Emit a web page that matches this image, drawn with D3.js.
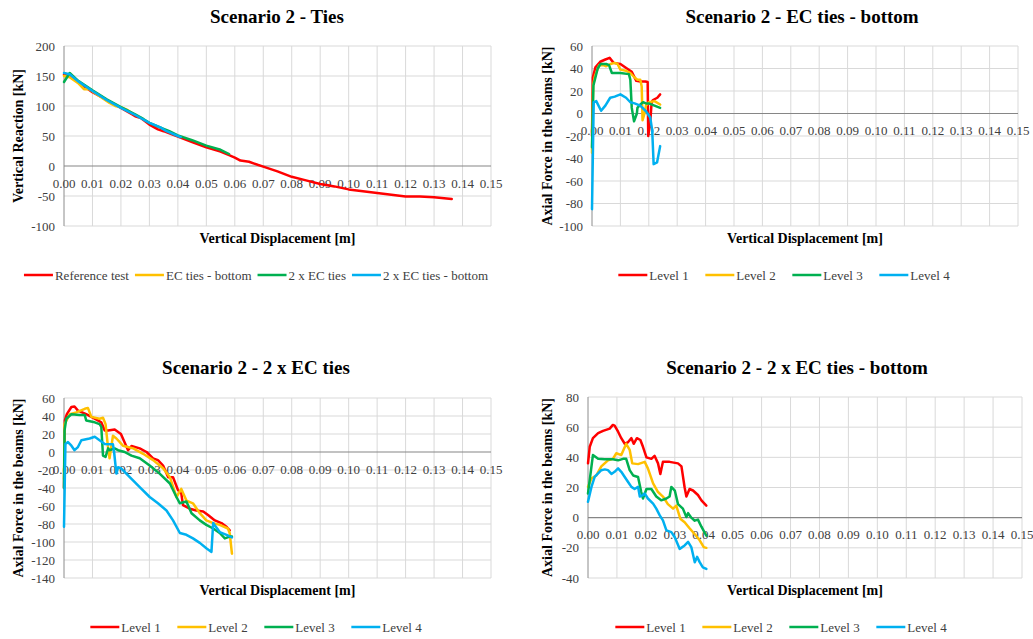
<!DOCTYPE html>
<html>
<head>
<meta charset="utf-8">
<script src="https://cdn.jsdelivr.net/npm/d3@7"></script>
<style>
  body { margin: 0; background: #fff; }
  svg { display: block; font-family: "Liberation Serif", "Times New Roman", serif; }
</style>
</head>
<body>
<div id="chart"></div>
<script>
// colours of the 4 series (Excel defaults)
const colors = ["#ff0000", "#ffc000", "#00b050", "#00b0f0"];

// x ticks, shared by all panels
const xTicks = d3.range(0, 16).map(i => i / 100);

// ---- Scenario 2 - Ties : vertical reaction [kN]
const tiesNames = ["Reference test", "EC ties - bottom", "2 x EC ties", "2 x EC ties - bottom"];
const tiesYTicks = [-100, -50, 0, 50, 100, 150, 200];
const tiesRef = [[0,152],[0.002,150],[0.005,140],[0.01,123],[0.015,110],[0.02,97],[0.024,86],[0.025,83],[0.027,80],[0.03,69],[0.033,61],[0.035,58],[0.04,49],[0.045,40],[0.05,31],[0.055,24],[0.058,18],[0.06,14],[0.062,9],[0.065,7],[0.068,2],[0.07,-1],[0.075,-9],[0.08,-18],[0.085,-24],[0.09,-30],[0.095,-34],[0.10,-39],[0.105,-42],[0.11,-45],[0.115,-48],[0.12,-51],[0.125,-51],[0.13,-52],[0.1362,-55]];
const tiesEcBottom = [[0,150],[0.002,148],[0.005,138],[0.007,128],[0.009,128],[0.012,118],[0.016,105],[0.018,100],[0.02,98],[0.022,94],[0.024,88]];
const ties2xEc = [[0,140],[0.002,155],[0.005,142],[0.01,126],[0.015,111],[0.02,98],[0.025,86],[0.028,78],[0.03,72],[0.035,62],[0.037,58],[0.04,51],[0.045,43],[0.05,34],[0.055,27],[0.058,20]];
const ties2xEcBottom = [[0,155],[0.002,153],[0.005,141],[0.01,125],[0.015,110],[0.02,97],[0.025,85],[0.03,72],[0.033,66],[0.034,64],[0.036,58],[0.04,50],[0.041,48]];

// ---- Scenario 2 - EC ties - bottom : axial force [kN]
const levelNames = ["Level 1", "Level 2", "Level 3", "Level 4"];
const ecYTicks = [-100, -80, -60, -40, -20, 0, 20, 40, 60];
const ecL1 = [[0,-20],[0.0003,32],[0.0012,41],[0.0029,46],[0.0047,48],[0.0062,49.5],[0.0076,45],[0.010,44],[0.0123,40],[0.014,37],[0.0156,29],[0.017,28.5],[0.0188,28.5],[0.0196,28],[0.0198,-20],[0.0205,-8],[0.021,10],[0.0215,12],[0.023,14],[0.024,17]];
const ecL2 = [[0,-35],[0.0004,25],[0.001,33],[0.0025,43],[0.004,43],[0.005,42],[0.0065,44],[0.008,45],[0.009,44],[0.010,39],[0.012,38],[0.0135,36],[0.015,32],[0.016,30],[0.017,30],[0.0175,24],[0.0178,-6],[0.0185,0],[0.019,7],[0.020,10],[0.022,11],[0.024,8]];
const ecL3 = [[0,-30],[0.0005,25],[0.002,40],[0.003,44],[0.005,44],[0.006,43],[0.007,36],[0.010,36],[0.013,35],[0.0135,30],[0.014,5],[0.0148,-7],[0.0158,0],[0.016,5],[0.017,8],[0.018,10],[0.019,9],[0.020,9],[0.022,7],[0.024,5]];
const ecL4 = [[0,-85],[0.0006,10],[0.0015,11],[0.0032,2.4],[0.0047,7],[0.0064,14],[0.008,15],[0.010,17],[0.012,14],[0.0135,10],[0.015,9],[0.017,7],[0.019,2],[0.0205,-3.5],[0.0212,-15],[0.0217,-45],[0.0229,-43.5],[0.024,-29]];

// ---- Scenario 2 - 2 x EC ties : axial force [kN]
const twoYTicks = [-140, -120, -100, -80, -60, -40, -20, 0, 20, 40, 60];
const twoL1 = [[0,-40],[0.0003,35],[0.001,42],[0.0026,50],[0.0037,50.5],[0.0049,46],[0.0078,42],[0.0096,39],[0.0114,36],[0.0131,33],[0.0143,24],[0.0155,24],[0.0178,25],[0.020,20],[0.0225,2],[0.0237,6.6],[0.0266,4],[0.029,0],[0.0313,-7],[0.033,-9],[0.0348,-15],[0.0366,-28],[0.0383,-28],[0.040,-42],[0.0412,-46],[0.0418,-59],[0.0442,-63],[0.0465,-65],[0.0489,-66],[0.0506,-70],[0.053,-76],[0.0553,-79],[0.0571,-83],[0.0582,-87]];
const twoL2 = [[0,-30],[0.0002,31],[0.002,42],[0.0043,44],[0.0073,48],[0.0084,49],[0.0096,39],[0.0125,37],[0.0137,38],[0.0146,31],[0.0155,4],[0.016,-7],[0.0172,18],[0.0184,15],[0.0196,11],[0.0207,7],[0.0243,4],[0.0278,-2],[0.0313,-9],[0.0348,-18],[0.0372,-28],[0.0395,-50],[0.0412,-41],[0.043,-54],[0.0453,-57],[0.0477,-68],[0.050,-76],[0.0524,-79],[0.0547,-81],[0.0576,-85],[0.0582,-90],[0.059,-113]];
const twoL3 = [[0,-40],[0.0002,24],[0.0008,37],[0.0026,42],[0.0055,41],[0.0073,41],[0.0078,35],[0.0108,33],[0.0125,31],[0.0131,28],[0.0137,-4],[0.0146,-5.5],[0.0155,4],[0.016,2],[0.0178,4],[0.019,2],[0.0213,0],[0.0237,-4],[0.0266,-7],[0.0301,-15],[0.0336,-24],[0.0372,-35],[0.0395,-50],[0.0407,-57],[0.043,-55],[0.0448,-68],[0.0477,-76],[0.050,-81],[0.0524,-85],[0.0547,-90],[0.0565,-96],[0.0582,-94],[0.059,-94]];
const twoL4 = [[0,-83],[0.0005,9],[0.0014,11],[0.0026,7],[0.0037,2],[0.0049,5.5],[0.0061,13],[0.009,15],[0.0108,17],[0.0125,13],[0.0143,9],[0.016,8.5],[0.0172,8.5],[0.0176,0],[0.0184,-24],[0.019,-17],[0.020,-18],[0.0231,-28],[0.0266,-39],[0.0301,-50],[0.033,-57],[0.036,-65],[0.0383,-76],[0.0407,-90],[0.043,-92],[0.0453,-96],[0.0477,-101],[0.050,-107],[0.0518,-111],[0.0524,-79],[0.0547,-89],[0.0571,-92],[0.059,-95]];

// ---- Scenario 2 - 2 x EC ties - bottom : axial force [kN]
const twoBotYTicks = [-40, -20, 0, 20, 40, 60, 80];
const twoBotL1 = [[0,36],[0.0006,47],[0.0017,52.7],[0.0035,56],[0.0052,57.5],[0.0075,59],[0.0086,61.5],[0.0092,61],[0.0104,57],[0.0115,52.7],[0.0127,49],[0.0138,50],[0.015,52.7],[0.0158,49],[0.0169,52.7],[0.0181,51.5],[0.019,47],[0.0202,40],[0.0219,39],[0.023,41],[0.0242,36],[0.025,29],[0.0259,37],[0.0282,37],[0.0311,36],[0.0323,34],[0.0334,20],[0.034,14],[0.0351,19],[0.0363,18],[0.038,15],[0.0392,11.5],[0.0409,8]];
const twoBotL2 = [[0,20.4],[0.0012,26],[0.0029,28],[0.0046,34],[0.0069,38],[0.0086,39],[0.0098,42.7],[0.0115,41.5],[0.0132,49],[0.0144,45],[0.0153,36],[0.0173,35.5],[0.0196,37],[0.0207,32.7],[0.0225,22.7],[0.0242,17],[0.0259,14],[0.0276,9],[0.0294,6],[0.0305,8],[0.0319,-0.7],[0.0334,-3],[0.0351,-7],[0.0369,-11],[0.0386,-15],[0.040,-19.5],[0.0409,-20]];
const twoBotL3 = [[0,16],[0.0017,41.5],[0.0035,39],[0.0058,38.7],[0.0086,38.7],[0.0104,38],[0.0121,39],[0.0132,39],[0.0144,31.5],[0.0156,28],[0.0173,27],[0.0184,17],[0.019,12.7],[0.0202,19],[0.0219,19],[0.0236,14],[0.0253,11.5],[0.0271,12.7],[0.0282,14],[0.0288,20.4],[0.030,18],[0.0311,9],[0.0328,6],[0.034,0.4],[0.0346,3],[0.0357,0],[0.0369,-2],[0.038,-1.3],[0.0392,-6],[0.0409,-12]];
const twoBotL4 = [[0,10.5],[0.0012,20.4],[0.0023,27],[0.0046,31.5],[0.0058,32],[0.0069,31.5],[0.0081,29],[0.0092,30.4],[0.0104,32.7],[0.0115,30.4],[0.0127,27],[0.0138,23.8],[0.015,20.4],[0.0161,19],[0.0173,20.4],[0.0179,14],[0.019,15],[0.0196,16],[0.0207,12.7],[0.0225,9.3],[0.0236,6],[0.0248,1.5],[0.0259,-1.8],[0.0271,-8.4],[0.0288,-9.6],[0.030,-13],[0.0317,-20.7],[0.0334,-18.4],[0.0346,-16],[0.0357,-19.5],[0.0369,-29.5],[0.0377,-26],[0.0386,-29.5],[0.0397,-33],[0.0409,-34]];

const W = 1033, H = 639;
const svg = d3.select("#chart").append("svg")
    .attr("width", W).attr("height", H);
svg.append("rect").attr("width", W).attr("height", H).attr("fill", "#fff");

// one chart panel
function panel(cfg) {
    const x = d3.scaleLinear().domain([0, 0.15]).range([cfg.left, cfg.right]);
    const y = d3.scaleLinear().domain(d3.extent(cfg.yTicks)).range([cfg.bottom, cfg.top]);
    const g = svg.append("g");

    // grid
    g.selectAll(".vg").data(xTicks.slice(1)).enter().append("line")
        .attr("x1", d => x(d)).attr("x2", d => x(d))
        .attr("y1", cfg.top).attr("y2", cfg.bottom)
        .attr("stroke", "#d9d9d9").attr("stroke-width", 1);
    g.selectAll(".hg").data(cfg.yTicks.filter(d => d !== 0)).enter().append("line")
        .attr("x1", cfg.left).attr("x2", cfg.right)
        .attr("y1", d => y(d)).attr("y2", d => y(d))
        .attr("stroke", "#d9d9d9").attr("stroke-width", 1);

    // axis lines
    g.append("line").attr("x1", cfg.left).attr("x2", cfg.left)
        .attr("y1", cfg.top).attr("y2", cfg.bottom)
        .attr("stroke", "#8c8c8c").attr("stroke-width", 1);
    g.append("line").attr("x1", cfg.left).attr("x2", cfg.right)
        .attr("y1", y(0)).attr("y2", y(0))
        .attr("stroke", "#868686").attr("stroke-width", 1.2);

    // tick labels
    g.selectAll(".yl").data(cfg.yTicks).enter().append("text")
        .attr("x", cfg.left - 9).attr("y", d => y(d)).attr("dy", "0.35em")
        .attr("text-anchor", "end").attr("font-size", 13).attr("fill", "#404040")
        .text(d => d);
    g.selectAll(".xl").data(xTicks).enter().append("text")
        .attr("x", d => x(d)).attr("y", y(0) + 17).attr("dy", "0.35em")
        .attr("text-anchor", "middle").attr("font-size", 13).attr("fill", "#404040")
        .text(d => d3.format(".2f")(d));

    // series
    const line = d3.line().x(d => x(d[0])).y(d => y(d[1]));
    cfg.series.forEach((s, i) => {
        g.append("path").attr("d", line(s))
            .attr("fill", "none").attr("stroke", colors[i])
            .attr("stroke-width", 2.5).attr("stroke-linejoin", "round").attr("stroke-linecap", "round");
    });

    // titles
    g.append("text").attr("x", cfg.titleX).attr("y", cfg.titleY)
        .attr("text-anchor", "middle").attr("font-size", 19).attr("font-weight", "bold")
        .attr("fill", "#000").text(cfg.title);
    g.append("text").attr("x", (cfg.left + cfg.right) / 2).attr("y", cfg.bottom + 17)
        .attr("text-anchor", "middle").attr("font-size", 14).attr("font-weight", "bold")
        .attr("fill", "#000").text("Vertical Displacement [m]");
    g.append("text")
        .attr("transform", `translate(${cfg.yTitleX},${(cfg.top + cfg.bottom) / 2}) rotate(-90)`)
        .attr("text-anchor", "middle").attr("font-size", 14).attr("font-weight", "bold")
        .attr("fill", "#000").text(cfg.yTitle);

    // legend
    const leg = g.append("g");
    let cx = 0;
    cfg.names.forEach((n, i) => {
        const it = leg.append("g").attr("transform", `translate(${cx},0)`);
        it.append("line").attr("x1", 0).attr("x2", 29).attr("y1", 0).attr("y2", 0)
            .attr("stroke", colors[i]).attr("stroke-width", 2.5);
        const t = it.append("text").attr("x", 31).attr("y", 0).attr("dy", "0.35em")
            .attr("font-size", 13).attr("fill", "#404040").text(n);
        const w = 31 + t.node().getComputedTextLength();
        cx += cfg.legendPitch ? cfg.legendPitch : w + 6;
        if (i === cfg.names.length - 1) cx = cx - (cfg.legendPitch ? cfg.legendPitch : w + 6) + w;
    });
    leg.attr("transform", `translate(${cfg.legendCx - cx / 2},${cfg.legendY})`);
}

panel({
    left: 64, right: 491, top: 46, bottom: 226, yTicks: tiesYTicks,
    series: [tiesRef, tiesEcBottom, ties2xEc, ties2xEcBottom], names: tiesNames,
    title: "Scenario 2 - Ties", titleX: 277, titleY: 23,
    yTitle: "Vertical Reaction [kN]", yTitleX: 23,
    legendCx: 256, legendY: 275
});
panel({
    left: 592, right: 1018, top: 46, bottom: 226, yTicks: ecYTicks,
    series: [ecL1, ecL2, ecL3, ecL4], names: levelNames,
    title: "Scenario 2 - EC ties - bottom", titleX: 802, titleY: 23,
    yTitle: "Axial  Force in the beams [kN]", yTitleX: 552,
    legendCx: 784, legendY: 275, legendPitch: 87
});
panel({
    left: 64, right: 491, top: 398, bottom: 578, yTicks: twoYTicks,
    series: [twoL1, twoL2, twoL3, twoL4], names: levelNames,
    title: "Scenario 2 - 2 x EC ties", titleX: 256, titleY: 374,
    yTitle: "Axial  Force in the beams [kN]", yTitleX: 23,
    legendCx: 256, legendY: 627, legendPitch: 87
});
panel({
    left: 588, right: 1022, top: 397, bottom: 578, yTicks: twoBotYTicks,
    series: [twoBotL1, twoBotL2, twoBotL3, twoBotL4], names: levelNames,
    title: "Scenario 2 - 2 x EC ties - bottom", titleX: 797, titleY: 374,
    yTitle: "Axial  Force in the beams [kN]", yTitleX: 552,
    legendCx: 781, legendY: 627, legendPitch: 87
});
</script>
</body>
</html>
